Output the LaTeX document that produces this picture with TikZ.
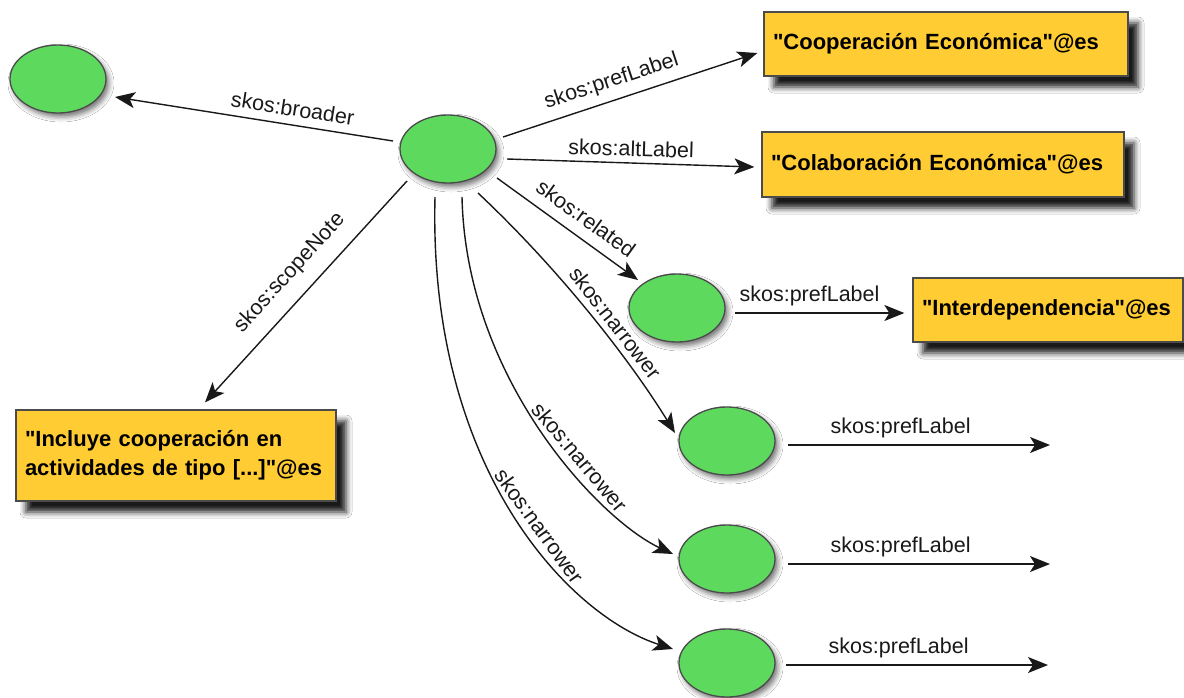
\documentclass[tikz,border=0pt]{standalone}
\usepackage{fontspec}
\setmainfont{Liberation Sans}[Ligatures=TeXOff]
\usetikzlibrary{arrows.meta,shapes.geometric,shadows.blur}
\definecolor{nodegreen}{RGB}{93,217,94}
\definecolor{litbox}{RGB}{255,204,51}
\definecolor{edgegray}{RGB}{75,75,75}
\definecolor{ink}{RGB}{25,25,25}

\begin{document}
\begin{tikzpicture}[x=1pt,y=-1pt,
  concept/.style={ellipse, draw=edgegray, line width=1.3pt, fill=nodegreen,
    minimum width=96pt, minimum height=68pt, inner sep=0pt,
    blur shadow={shadow xshift=3pt, shadow yshift=-4pt, shadow blur radius=5pt, shadow opacity=55}},
  literal/.style={rectangle, draw=edgegray, line width=1.3pt, fill=litbox,
    inner xsep=9pt, align=left, text=black,
    font=\fontsize{22}{29}\selectfont\bfseries,
    blur shadow={shadow xshift=10pt, shadow yshift=-11pt, shadow blur radius=6pt, shadow opacity=90}},
  rel/.style={draw=ink, line width=1.4pt, -{Stealth[length=20pt,width=16pt,inset=5pt]}},
  lbl/.style={font=\fontsize{21.5}{24}\selectfont, text=ink, sloped, above, inner sep=8pt},
]
\fill[white] (0,0) rectangle (1184,697);
\useasboundingbox (0,0) rectangle (1184,697);

% concepts
\node[concept] (A)  at (58,79)   {};
\node[concept] (C)  at (448,149) {};
\node[concept] (R)  at (677,308) {};
\node[concept] (N1) at (727,441) {};
\node[concept] (N2) at (727,559) {};
\node[concept] (N3) at (727,663) {};

% literals
\node[literal, text width=346pt, minimum height=64pt] (coop)  at (946,44)    {"Cooperación Económica"@es};
\node[literal, text width=344pt, minimum height=65pt] (colab) at (943,164.5) {"Colaboración Económica"@es};
\node[literal, text width=252pt, minimum height=64pt] (inter) at (1048,310)  {"Interdependencia"@es};
\node[literal, text width=302pt, minimum height=91pt] (incl)  at (176,455.5) {"Incluye cooperación en\\actividades de tipo [...]"@es};

% open ends of the narrower concepts' labels
\coordinate (e1) at (1050,445);
\coordinate (e2) at (1050,564);
\coordinate (e3) at (1048,665);

% relations of the central concept
\draw[rel] ([shift={(-55,-8)}]C.center) -- node[lbl,pos=0.37]{skos:broader} ([shift={(57,18)}]A.center);
\draw[rel] ([shift={(55,-12)}]C.center) -- node[lbl,pos=0.45]{skos:prefLabel} ([shift={(-6,9)}]coop.west);
\draw[rel] ([shift={(59,10)}]C.center) -- node[lbl,pos=0.5,inner sep=6pt]{skos:altLabel} ([shift={(-7,2.5)}]colab.west);
\draw[rel] ([shift={(49,29)}]C.center) -- node[lbl,pos=0.55,inner sep=11pt]{skos:related} ([shift={(-39,-28)}]R.center);
\draw[rel] ([shift={(-41,32)}]C.center) -- node[lbl,pos=0.49,inner sep=14pt]{skos:scopeNote} ([shift={(29,-7)}]incl.north);

\draw[rel] ([shift={(30,44)}]C.center) .. controls +(82,77) and +(-45,-73) ..
  node[lbl,pos=0.57,inner sep=6pt]{skos:narrower} ([shift={(-52,-8)}]N1.center);
\draw[rel] ([shift={(14,48)}]C.center) .. controls +(4,183) and +(-73,-34) ..
  node[lbl,pos=0.6,inner sep=6pt]{skos:narrower} ([shift={(-54,-5)}]N2.center);
\draw[rel] ([shift={(-13,48)}]C.center) .. controls +(-7,273) and +(-103,-33) ..
  node[lbl,pos=0.55,inner sep=6pt]{skos:narrower} ([shift={(-54,-14)}]N3.center);

% labels of the other concepts
\draw[rel] ([shift={(58,5)}]R.center) -- node[lbl,pos=0.44,inner sep=6pt]{skos:prefLabel} ([shift={(-8,3)}]inter.west);
\draw[rel] ([shift={(61,4)}]N1.center) -- node[lbl,pos=0.43,inner sep=6pt]{skos:prefLabel} (e1);
\draw[rel] ([shift={(61,5)}]N2.center) -- node[lbl,pos=0.43,inner sep=6pt]{skos:prefLabel} (e2);
\draw[rel] ([shift={(59,2)}]N3.center) -- node[lbl,pos=0.43,inner sep=6pt]{skos:prefLabel} (e3);
\end{tikzpicture}
\end{document}
